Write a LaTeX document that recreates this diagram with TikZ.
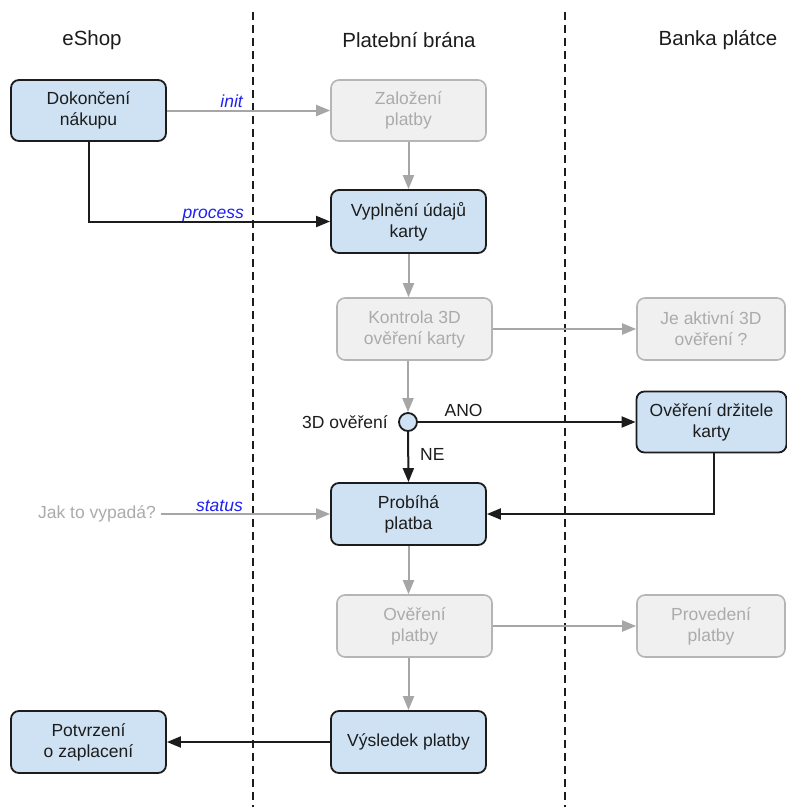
\documentclass[tikz,border=0pt]{standalone}
\usepackage{fontspec}
\setmainfont{Liberation Sans}
\usetikzlibrary{arrows.meta}

\definecolor{boxblue}{HTML}{CFE2F3}
\definecolor{inkdark}{HTML}{1C1C1C}
\definecolor{fadefill}{HTML}{F0F0F0}
\definecolor{fadeline}{HTML}{B5B5B5}
\definecolor{fadetext}{HTML}{ABABAB}
\definecolor{fadearrow}{HTML}{A6A6A6}
\definecolor{labelblue}{HTML}{2020F0}

\tikzset{
  active/.style={draw=inkdark, fill=boxblue, line width=1.8pt, rounded corners=8pt,
    align=center, inner sep=0pt, text=inkdark,
    font=\fontsize{17.5}{21}\selectfont},
  passive/.style={draw=fadeline, fill=fadefill, line width=1.6pt, rounded corners=8pt,
    align=center, inner sep=0pt, text=fadetext,
    font=\fontsize{17.5}{21}\selectfont},
  lane/.style={draw=inkdark, line width=2.2pt, dash pattern=on 8pt off 5pt},
  header/.style={font=\fontsize{20.5}{24}\selectfont, text=inkdark},
  plain/.style={font=\fontsize{17.5}{21}\selectfont, text=inkdark, inner sep=0pt},
  call/.style={font=\fontsize{17.5}{21}\selectfont\itshape, text=labelblue, inner sep=0pt},
  flow/.style={draw=inkdark, line width=2pt, -{Triangle[length=14pt,width=11pt]}},
  faded/.style={draw=fadearrow, line width=2pt, -{Triangle[length=14pt,width=11pt]}}
}

\begin{document}
\begin{tikzpicture}[x=1pt,y=-1pt]
\useasboundingbox (0,0) rectangle (787,807);

% swimlane separators
\coordinate (laneAtop) at (253,12);
\coordinate (laneAbot) at (253,807);
\coordinate (laneBtop) at (565,12);
\coordinate (laneBbot) at (565,807);
\draw[lane] (laneAtop) -- (laneAbot);
\draw[lane] (laneBtop) -- (laneBbot);

% lane headers
\node[header] (hShop) at (92,40) {eShop};
\node[header] (hGate) at (409,40) {Platební brána};
\node[header] (hBank) at (718,40) {Banka plátce};

% steps
\node[active,  minimum width=155pt, minimum height=61pt] (dokon) at (88.5,110.5) {Dokončení\\nákupu};
\node[passive, minimum width=155pt, minimum height=61pt] (zaloz) at (408.5,110.5) {Založení\\platby};
\node[active,  minimum width=155pt, minimum height=63pt] (vypl) at (408.5,221.5) {Vyplnění údajů\\karty};
\node[passive, minimum width=155pt, minimum height=62pt] (kontr) at (414.5,329) {Kontrola 3D\\ověření karty};
\node[passive, minimum width=148pt, minimum height=62pt] (jeakt) at (711,329) {Je aktivní 3D\\ověření ?};
\node[draw=inkdark, fill=boxblue, line width=1.8pt, circle, minimum size=18pt, inner sep=0pt] (dec) at (408,422) {};
\node[plain, anchor=east] (decl) at (388,422) {3D ověření};
\node[active,  minimum width=150pt, minimum height=61pt] (drzit) at (711.5,422) {Ověření držitele\\karty};
\node[active,  minimum width=155pt, minimum height=62pt] (prob) at (408.5,514) {Probíhá\\platba};
\node[plain, text=fadetext, inner xsep=5pt] (jak) at (97,514) {Jak to vypadá?};
\node[passive, minimum width=155pt, minimum height=62pt] (overp) at (414.5,626) {Ověření\\platby};
\node[passive, minimum width=148pt, minimum height=62pt] (prov) at (711,626) {Provedení\\platby};
\node[active,  minimum width=155pt, minimum height=62pt] (vysl) at (408.5,742) {Výsledek platby};
\node[active,  minimum width=155pt, minimum height=62pt] (potv) at (88.5,742) {Potvrzení\\o zaplacení};

% call labels on the eShop -> gateway connectors
\node[call, anchor=base east] (linit) at (243,107) {init};
\node[call, anchor=base east] (lproc) at (244,218) {process};
\node[call, anchor=base east] (lstat) at (243,511) {status};

% connectors
\draw[faded] (dokon.east) -- (zaloz.west);
\draw[faded] (zaloz.south) -- (vypl.north);
\draw[flow] (dokon.south) |- (vypl.west);
\draw[faded] (vypl.south) -- (vypl.south |- kontr.north);
\draw[faded] (kontr.east) -- (jeakt.west);
\draw[faded] (kontr.south -| dec) -- (dec.north);
\draw[flow] (dec.east) -- (drzit.west)
  node[plain, pos=0.21, anchor=south, yshift=4pt] (lano) {ANO};
\draw[flow] (dec.south) -- (prob.north)
  node[plain, pos=0.45, anchor=west, xshift=11pt] (lne) {NE};
\draw[flow] (drzit.south -| 714,0) |- (prob.east);
\draw[faded] (jak.east) -- (prob.west);
\draw[faded] (prob.south) -- (prob.south |- overp.north);
\draw[faded] (overp.east) -- (prov.west);
\draw[faded] (overp.south -| vysl) -- (vysl.north);
\draw[flow] (vysl.west) -- (potv.east);
\end{tikzpicture}
\end{document}
